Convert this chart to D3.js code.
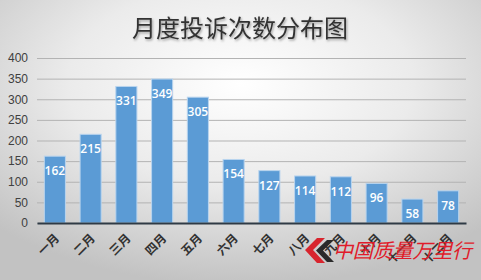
<!DOCTYPE html>
<html>
<head>
<meta charset="utf-8">
<script src="https://cdn.jsdelivr.net/npm/d3@7"></script>
<style>
  html, body { margin: 0; padding: 0; background: #fff; }
  svg { display: block; }
</style>
</head>
<body>
<svg id="chart" width="481" height="280"></svg>
<script>
// Monthly complaint counts
const months = ["一月","二月","三月","四月","五月","六月","七月","八月","九月","十月","十一月","十二月"];
const counts = [162, 215, 331, 349, 305, 154, 127, 114, 112, 96, 58, 78];
const yTicks = [0, 50, 100, 150, 200, 250, 300, 350, 400];
const title = "月度投诉次数分布图";
const badge = "中国质量万里行";

const W = 481, H = 280;
const svg = d3.select("#chart");

// Soft radial backdrop
const defs = svg.append("defs");
const bg = defs.append("radialGradient").attr("id", "bg")
  .attr("cx", "50%").attr("cy", "30%").attr("r", "72%");
bg.append("stop").attr("offset", "0%").attr("stop-color", "#ffffff");
bg.append("stop").attr("offset", "50%").attr("stop-color", "#ebebeb");
bg.append("stop").attr("offset", "100%").attr("stop-color", "#c2c2c2");
svg.append("rect").attr("width", W).attr("height", H).attr("fill", "url(#bg)");

const shadow = defs.append("filter").attr("id", "tshadow")
  .attr("x", "-10%").attr("y", "-10%").attr("width", "120%").attr("height", "130%");
shadow.append("feDropShadow").attr("dx", 1).attr("dy", 1.5).attr("stdDeviation", 0.8)
  .attr("flood-color", "#000").attr("flood-opacity", 0.35);

const plot = { left: 37, right: 466, top: 58, bottom: 223 };

const x = d3.scaleBand().domain(months).range([plot.left, plot.right]).paddingInner(0.41).paddingOuter(0.205);
const y = d3.scaleLinear().domain([0, 400]).range([plot.bottom, plot.top]);

// Title
svg.append("text")
  .attr("x", 240).attr("y", 37)
  .attr("text-anchor", "middle")
  .attr("font-family", "'Noto Sans CJK SC', sans-serif")
  .attr("font-size", 24)
  .attr("fill", "#333333")
  .attr("filter", "url(#tshadow)")
  .text(title);

// Gridlines and y labels
const yAxis = d3.axisLeft(y).tickValues(yTicks).tickSize(-(plot.right - plot.left)).tickPadding(9);
const gy = svg.append("g").attr("transform", `translate(${plot.left},0)`).call(yAxis);
gy.select(".domain").remove();
gy.selectAll(".tick line").attr("stroke", "#b3b3b3").attr("stroke-width", 1);
gy.selectAll(".tick text")
  .attr("font-family", "'Liberation Sans', Arial, sans-serif")
  .attr("font-size", 12).attr("fill", "#404040");

// Bars
svg.append("g").selectAll("rect").data(counts).join("rect")
  .attr("x", (d, i) => x(months[i]))
  .attr("y", d => y(d))
  .attr("width", x.bandwidth())
  .attr("height", d => y(0) - y(d))
  .attr("fill", "#5b9bd5")
  .attr("stroke", "#b9d4ee")
  .attr("stroke-width", 1);

// Value labels inside the bars
svg.append("g").selectAll("text").data(counts).join("text")
  .attr("x", (d, i) => x(months[i]) + x.bandwidth() / 2)
  .attr("y", d => y(d) + 19)
  .attr("text-anchor", "middle")
  .attr("font-family", "'Open Sans', sans-serif")
  .attr("font-size", 12)
  .attr("font-weight", 600)
  .attr("fill", "#ffffff")
  .text(d => d);

// Baseline axis with rotated month labels
const xAxis = d3.axisBottom(x).tickSize(0).tickPadding(0);
const gx = svg.append("g").attr("transform", `translate(0,${plot.bottom})`).call(xAxis);
gx.select(".domain").attr("stroke", "#2f3a45").attr("stroke-width", 2.2);
gx.selectAll(".tick text")
  .attr("font-family", "'Noto Sans CJK SC', sans-serif")
  .attr("font-size", 12)
  .attr("font-weight", "bold")
  .attr("fill", "#333")
  .attr("text-anchor", "end")
  .attr("dy", 0)
  .attr("transform", "translate(5,16) rotate(-45)");

// Badge: chevron mark and red lettering
const badgeG = svg.append("g").attr("transform", "translate(305,238)");
badgeG.append("path").attr("d", "M12,0 L20,0 L8,12 L20,25 L12,25 L0,12 Z").attr("fill", "#d8252e");
badgeG.append("path").attr("d", "M22,2 L29,2 L18,12.5 L29,24 L22,24 L11,12.5 Z").attr("fill", "#2a2a2a");
svg.append("text")
  .attr("x", 333).attr("y", 258)
  .attr("font-family", "'Noto Sans CJK SC', sans-serif")
  .attr("font-size", 20)
  .attr("font-style", "italic")
  .attr("fill", "#e01b2a")
  .attr("textLength", 139)
  .text(badge);
</script>
</body>
</html>
